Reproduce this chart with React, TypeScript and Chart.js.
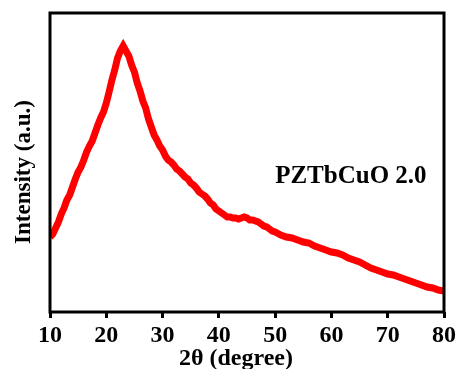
import React, { useEffect, useRef } from "react";
import { Chart, registerables } from "chart.js";

Chart.register(...registerables);

const twoTheta = [
  10, 10.5, 11, 11.5, 12, 12.5, 13, 13.5, 14, 14.5, 15, 15.5, 16, 16.5, 17, 17.5, 18, 18.5, 19, 19.5,
  20, 20.5, 21, 21.5, 22, 22.5, 23, 23.5, 24, 24.5, 25, 25.5, 26, 26.5, 27, 27.5, 28, 28.5, 29, 29.5,
  30, 30.5, 31, 31.5, 32, 32.5, 33, 33.5, 34, 34.5, 35, 35.5, 36, 36.5, 37, 37.5, 38, 38.5, 39, 39.5,
  40, 40.5, 41, 41.5, 42, 42.5, 43, 43.5, 44, 44.5, 45, 45.5, 46, 46.5, 47, 47.5, 48, 48.5, 49, 49.5,
  50, 51, 52, 53, 54, 55, 56, 57, 58, 59, 60, 61, 62, 63, 64, 65, 66, 67, 68, 69, 70,
  71, 72, 73, 74, 75, 76, 77, 78, 79, 80,
];

const intensity = [
  75, 78, 84, 90, 98, 104, 112, 117, 125, 133, 140, 145, 152, 160, 166, 171, 179, 187, 194, 200,
  209, 220, 232, 242, 254, 261, 266, 261, 256, 247, 240, 229, 221, 211, 204, 193, 185, 177, 172, 166,
  162, 156, 152, 150, 147, 143, 141, 138, 135, 133, 129, 127, 124, 120, 118, 116, 113, 109, 107, 103,
  101, 99, 97, 95, 95, 94, 94, 93, 94, 95, 94, 92, 92, 91, 90, 88, 86, 85, 83, 81,
  80, 77, 75, 74, 72, 70, 69, 66, 64, 62, 60, 59, 57, 54, 52, 50, 47, 44, 42, 40, 38,
  37, 35, 33, 31, 29, 27, 25, 24, 22, 21,
];

const xTicks = [10, 20, 30, 40, 50, 60, 70, 80];
const xTitle = "2θ (degree)";
const yTitle = "Intensity (a.u.)";
const sampleLabel = "PZTbCuO 2.0";
const sampleLabelPos = { x: 50, y: 129 };

const FONT = "'Liberation Serif', 'Times New Roman', serif";

export default function App() {
  const ref = useRef<HTMLCanvasElement | null>(null);

  useEffect(() => {
    document.body.style.margin = "0";
    const canvas = ref.current;
    if (!canvas) return;

    const framePlugin = {
      id: "frameAndText",
      afterDatasetsDraw(chart: any) {
        const { ctx, chartArea, scales } = chart;
        ctx.save();
        ctx.strokeStyle = "#000";
        ctx.lineWidth = 3;
        ctx.strokeRect(chartArea.left, chartArea.top, chartArea.right - chartArea.left, chartArea.bottom - chartArea.top);

        ctx.fillStyle = "#000";
        ctx.font = `bold 25px ${FONT}`;
        ctx.textAlign = "left";
        ctx.textBaseline = "alphabetic";
        ctx.fillText(sampleLabel, scales.x.getPixelForValue(sampleLabelPos.x), scales.y.getPixelForValue(sampleLabelPos.y));

        ctx.font = `bold 24px ${FONT}`;
        ctx.textAlign = "center";
        ctx.fillText(xTitle, chartArea.left + (chartArea.right - chartArea.left) / 2 - 11, 365);

        ctx.font = `bold 23px ${FONT}`;
        ctx.translate(30, 172);
        ctx.rotate(-Math.PI / 2);
        ctx.fillText(yTitle, 0, 0);
        ctx.restore();
      },
    };

    const chart = new Chart(canvas, {
      type: "line",
      data: {
        datasets: [
          {
            data: twoTheta.map((x, i) => ({ x, y: intensity[i] })),
            borderColor: "#ff0000",
            borderWidth: 7,
            pointRadius: 0,
            tension: 0,
            fill: false,
          },
        ],
      },
      options: {
        animation: false,
        responsive: true,
        maintainAspectRatio: false,
        layout: { padding: { top: 13, right: 17, left: 0, bottom: 0 } },
        plugins: { legend: { display: false }, tooltip: { enabled: false } },
        scales: {
          x: {
            type: "linear",
            min: 10,
            max: 80,
            afterBuildTicks: (scale: any) => {
              scale.ticks = xTicks.map((v) => ({ value: v }));
            },
            afterFit: (scale: any) => {
              scale.height = 57;
            },
            border: { display: false },
            grid: { drawOnChartArea: false, drawTicks: true, tickLength: 6, color: "#000", lineWidth: 3 },
            ticks: {
              color: "#000",
              padding: 3,
              maxRotation: 0,
              font: { family: FONT, size: 24, weight: "bold" },
            },
          },
          y: {
            type: "linear",
            min: 0,
            max: 299,
            afterFit: (scale: any) => {
              scale.width = 50;
            },
            border: { display: false },
            grid: { display: false },
            ticks: { display: false },
          },
        },
      },
      plugins: [framePlugin],
    });

    return () => chart.destroy();
  }, []);

  return (
    <div style={{ width: 461, height: 369, position: "relative" }}>
      <canvas ref={ref} />
    </div>
  );
}
